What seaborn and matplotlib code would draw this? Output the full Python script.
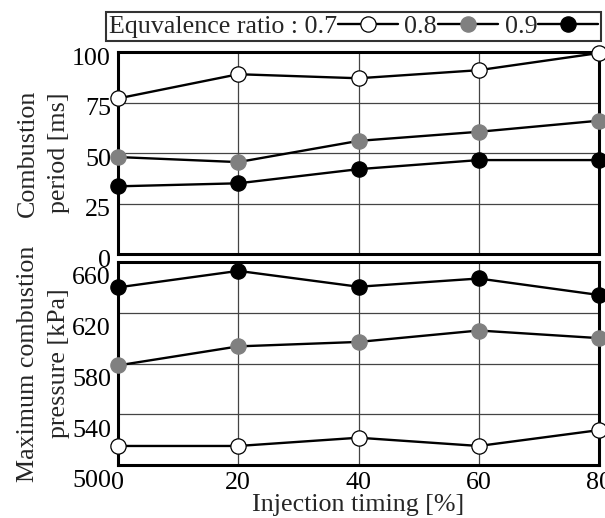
import numpy as np
import pandas as pd
import matplotlib
matplotlib.use("Agg")
import matplotlib.pyplot as plt
import matplotlib.transforms as mtransforms
from matplotlib.lines import Line2D
import seaborn as sns

timing = [0, 20, 40, 60, 80]
ratios = ["0.7", "0.8", "0.9"]
period_07 = [77, 89, 87, 91, 99.5]
period_08 = [48, 45.5, 56, 60.5, 66]
period_09 = [33.5, 35, 42, 46.5, 46.5]
pressure_07 = [515, 515, 521.5, 515, 527.5]
pressure_08 = [578.5, 593.5, 597, 606, 600]
pressure_09 = [640, 653, 640.5, 647, 634]
face_colors = ["white", "#808080", "black"]
edge_colors = ["black", "#808080", "black"]

FS = 18.7

sns.set_theme(style="white")
plt.rcParams["font.family"] = ["Liberation Serif", "DejaVu Serif"]
plt.rcParams["font.size"] = FS

fig = plt.figure(figsize=(6.05, 5.18), dpi=100)
ax1 = fig.add_axes([118/605, 1-254/518, (599-118)/605, (254-52)/518])
ax2 = fig.add_axes([118/605, 1-465/518, (599-118)/605, (465-262)/518])

periods = [period_07, period_08, period_09]
pressures = [pressure_07, pressure_08, pressure_09]

for ax, series in ((ax1, periods), (ax2, pressures)):
    for vals, fc, ec in zip(series, face_colors, edge_colors):
        df = pd.DataFrame({"x": timing, "y": vals})
        sns.lineplot(data=df, x="x", y="y", ax=ax, color="black", lw=1.7,
                     marker="o", markersize=11, markerfacecolor=fc,
                     markeredgecolor=ec, markeredgewidth=0.9, clip_on=False,
                     zorder=5)

for ax in (ax1, ax2):
    ax.set_xlim(0, 80)
    ax.set_xticks(timing)
    for s in ax.spines.values():
        s.set_visible(True)
        s.set_color("black")
        s.set_linewidth(2.2)
    ax.grid(True, color="#444444", lw=0.9)
    ax.tick_params(length=0, labelsize=FS, colors="black", pad=5)
    ax.set_xlabel("")

ax1.set_ylim(0, 100)
ax1.set_yticks([0, 25, 50, 75, 100])
ax1.set_xticklabels([])
ax1.set_ylabel("Combustion\nperiod [ms]", fontsize=FS, linespacing=1.55)

ax2.set_ylim(500, 660)
ax2.set_yticks([500, 540, 580, 620, 660])
ax2.set_ylabel("Maximum combustion\npressure [kPa]", fontsize=FS, linespacing=1.55)
ax2.set_xlabel("Injection timing [%]", fontsize=FS, labelpad=0)

off1 = mtransforms.ScaledTranslation(0, -3/72, fig.dpi_scale_trans)
for lab in ax1.get_yticklabels():
    lab.set_transform(lab.get_transform() + off1)
off2 = mtransforms.ScaledTranslation(0, -10/72, fig.dpi_scale_trans)
for lab in ax2.get_yticklabels():
    lab.set_transform(lab.get_transform() + off2)

ax1.yaxis.set_label_coords(-0.10, 0.5)
ax2.yaxis.set_label_coords(-0.10, 0.5)

handles = [Line2D([], [], color="black", lw=1.7, marker="o", markersize=11,
                  markerfacecolor=fc, markeredgecolor=ec, markeredgewidth=0.9)
           for fc, ec in zip(face_colors, edge_colors)]
labels = ["Equvalence ratio : " + ratios[0], ratios[1], ratios[2]]
leg = fig.legend(handles, labels, loc="center", bbox_to_anchor=(0.5843, 0.9488),
                 ncol=3, markerfirst=False, frameon=True, fancybox=False,
                 edgecolor="black", handlelength=2.3, handletextpad=0.05,
                 columnspacing=0.25, borderpad=0.1, borderaxespad=0,
                 fontsize=FS)
leg.get_frame().set_linewidth(1.5)

fig.savefig("out.png", dpi=100)
